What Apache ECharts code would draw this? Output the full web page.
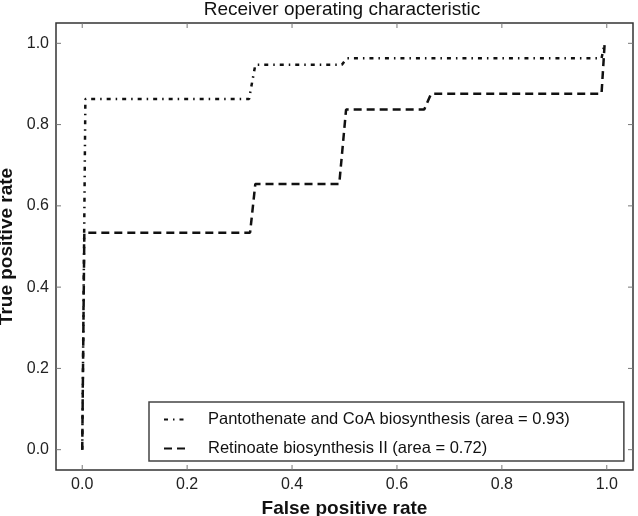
<!DOCTYPE html>
<html>
<head>
<meta charset="utf-8">
<script src="https://cdn.jsdelivr.net/npm/echarts@6/dist/echarts.min.js"></script>
<style>html,body{margin:0;padding:0;background:#fff}#c{width:638px;height:516px}</style>
</head>
<body>
<div id="c"></div>
<script>
var title = 'Receiver operating characteristic';
var xName = 'False positive rate';
var yName = 'True positive rate';
var tickValues = [0.0, 0.2, 0.4, 0.6, 0.8, 1.0];

var pantoName = 'Pantothenate and CoA biosynthesis (area = 0.93)';
var pantoFpr = [0.0, 0.006, 0.318, 0.33, 0.495, 0.504, 0.99, 0.996];
var pantoTpr = [0.0, 0.863, 0.863, 0.947, 0.947, 0.963, 0.963, 1.0];

var retinoName = 'Retinoate biosynthesis II (area = 0.72)';
var retinoFpr = [0.0, 0.004, 0.32, 0.33, 0.49, 0.503, 0.652, 0.665, 0.99, 0.996];
var retinoTpr = [0.0, 0.534, 0.534, 0.654, 0.654, 0.837, 0.837, 0.876, 0.876, 1.0];

(function () {
  function pairs(xs, ys) { return xs.map(function (x, i) { return [x, ys[i]]; }); }

  var font = 'Liberation Sans, Arial, sans-serif';
  function fmt(v) { return v.toFixed(1); }
  var G = { left: 56, right: 5, top: 23, bottom: 46 };
  var W = 638, H = 516;

  var chart = echarts.init(document.getElementById('c'), null, { renderer: 'canvas' });
  chart.setOption({
    animation: false,
    backgroundColor: '#fff',
    title: {
      text: title, left: 342, top: 0, padding: 0, textAlign: 'center',
      textStyle: { fontFamily: font, fontSize: 19, fontWeight: 'normal', color: '#111' }
    },
    grid: { left: G.left, right: G.right, top: G.top, bottom: G.bottom, show: true, borderColor: '#333', borderWidth: 1.5, backgroundColor: 'transparent', outerBoundsMode: 'none', containLabel: false },
    legend: {
      orient: 'vertical', left: 149, top: 402,
      borderColor: '#444', borderWidth: 1.5, borderRadius: 0,
      padding: [9, 54, 4, 14], itemGap: 12, itemWidth: 22, itemHeight: 14,
      itemStyle: { opacity: 0 },
      textStyle: { fontFamily: font, fontSize: 16.5, color: '#111', padding: [0, 0, 0, 17] },
      data: [pantoName, retinoName]
    },
    xAxis: {
      type: 'value', min: -0.05, max: 1.05, position: 'bottom',
      name: xName, nameLocation: 'middle', nameGap: 29,
      nameTextStyle: { fontFamily: font, fontSize: 19, fontWeight: 'bold', color: '#111' },
      axisLine: { show: false, onZero: false }, splitLine: { show: false },
      axisTick: { show: false },
      axisLabel: { customValues: tickValues, formatter: fmt, margin: 7, fontFamily: font, fontSize: 16, color: '#222' }
    },
    yAxis: {
      type: 'value', min: -0.05, max: 1.05, position: 'left',
      name: yName, nameLocation: 'middle', nameGap: 37,
      nameTextStyle: { fontFamily: font, fontSize: 19, fontWeight: 'bold', color: '#111' },
      axisLine: { show: false, onZero: false }, splitLine: { show: false },
      axisTick: { show: false },
      axisLabel: { customValues: tickValues, formatter: fmt, margin: 7, fontFamily: font, fontSize: 16, color: '#222' }
    },
    series: [{
      name: pantoName, type: 'line', symbol: 'none', data: pairs(pantoFpr, pantoTpr),
      lineStyle: { color: '#111', width: 2.5, type: [4, 5, 1.5, 5] },
      itemStyle: { color: '#111' }
    }, {
      name: retinoName, type: 'line', symbol: 'none', data: pairs(retinoFpr, retinoTpr),
      lineStyle: { color: '#111', width: 2.5, type: [8, 5] },
      itemStyle: { color: '#111' }
    }]
  });

  // Inward tick marks on all four sides, positioned through the axes' own scales.
  var TL = 5, tickColor = '#777';
  var yTop = G.top, yBottom = H - G.bottom, xLeft = G.left, xRight = W - G.right;
  var ticks = [];
  tickValues.forEach(function (v) {
    var px = chart.convertToPixel({ xAxisIndex: 0 }, v);
    var py = chart.convertToPixel({ yAxisIndex: 0 }, v);
    ticks.push({ type: 'line', silent: true, shape: { x1: px, y1: yBottom, x2: px, y2: yBottom - TL }, style: { stroke: tickColor, lineWidth: 1 } });
    ticks.push({ type: 'line', silent: true, shape: { x1: px, y1: yTop, x2: px, y2: yTop + TL }, style: { stroke: tickColor, lineWidth: 1 } });
    ticks.push({ type: 'line', silent: true, shape: { x1: xLeft, y1: py, x2: xLeft + TL, y2: py }, style: { stroke: tickColor, lineWidth: 1 } });
    ticks.push({ type: 'line', silent: true, shape: { x1: xRight, y1: py, x2: xRight - TL, y2: py }, style: { stroke: tickColor, lineWidth: 1 } });
  });
  chart.setOption({ graphic: { elements: ticks } });
})();
</script>
</body>
</html>
